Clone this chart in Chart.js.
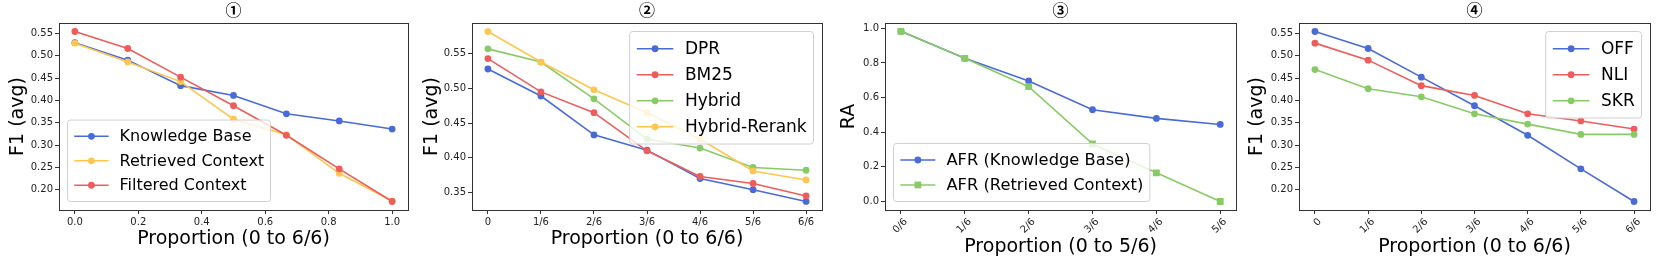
<!DOCTYPE html>
<html>
<head>
<meta charset="utf-8">
<script src="https://cdn.jsdelivr.net/npm/chart.js@4.4.0/dist/chart.umd.min.js"></script>
<style>
  body { margin: 0; background: #fff; width: 1661px; height: 262px; overflow: hidden; position: relative; }
  canvas { position: absolute; top: 0; }
</style>
</head>
<body>
<canvas id="c1" width="412" height="262" style="left:0px"></canvas>
<canvas id="c2" width="413" height="262" style="left:413px"></canvas>
<canvas id="c3" width="415" height="262" style="left:826px"></canvas>
<canvas id="c4" width="421" height="262" style="left:1240px"></canvas>
<script>
  // x values / tick labels
  const proportions = [0, 0.1667, 0.3333, 0.5, 0.6667, 0.8333, 1.0];
  const proportionTicks = [0, 0.2, 0.4, 0.6, 0.8, 1.0];
  const sixthLabels = ['0', '1/6', '2/6', '3/6', '4/6', '5/6', '6/6'];
  const fifthLabels = ['0/6', '1/6', '2/6', '3/6', '4/6', '5/6'];
  const f1Ticks = [0.20, 0.25, 0.30, 0.35, 0.40, 0.45, 0.50, 0.55];
  const retrieverTicks = [0.35, 0.40, 0.45, 0.50, 0.55];
  const raTicks = [0.0, 0.2, 0.4, 0.6, 0.8, 1.0];

  // panel 1: source of the passages
  const kbF1 = [0.529, 0.490, 0.433, 0.411, 0.370, 0.354, 0.336];
  const retrievedF1 = [0.528, 0.486, 0.442, 0.358, 0.323, 0.237, 0.175];
  const filteredF1 = [0.554, 0.516, 0.452, 0.388, 0.322, 0.247, 0.174];

  // panel 2: retrievers
  const dprF1 = [0.528, 0.489, 0.433, 0.411, 0.370, 0.354, 0.337];
  const bm25F1 = [0.543, 0.495, 0.465, 0.410, 0.373, 0.363, 0.345];
  const hybridF1 = [0.557, 0.538, 0.485, 0.427, 0.414, 0.386, 0.382];
  const rerankF1 = [0.582, 0.538, 0.498, 0.465, 0.427, 0.381, 0.368];

  // panel 3: AFR
  const afrKbRA = [0.983, 0.827, 0.696, 0.530, 0.480, 0.445];
  const afrRcRA = [0.983, 0.827, 0.663, 0.333, 0.166, 0.0];

  // panel 4: filters
  const offF1 = [0.554, 0.516, 0.452, 0.388, 0.322, 0.247, 0.174];
  const nliF1 = [0.528, 0.490, 0.433, 0.411, 0.370, 0.354, 0.336];
  const skrF1 = [0.469, 0.426, 0.408, 0.370, 0.347, 0.324, 0.324];

  const BLUE = '#4A6BD6', YELLOW = '#FDC64F', RED = '#EE5C5C', GREEN = '#88CB66';

  Chart.defaults.font.family = "'DejaVu Sans', sans-serif";

  function series(label, color, values, xs, style) {
    return {
      label: label,
      data: values.map((v, i) => ({ x: xs ? xs[i] : i, y: v })),
      borderColor: color,
      backgroundColor: color,
      borderWidth: 1.6,
      pointStyle: style || 'circle',
      pointRadius: style === 'rect' ? 4.8 : 3.4,
      pointBorderWidth: 0,
      tension: 0
    };
  }

  // frame, legend inside the axes and the panel title
  const framePlugin = {
    id: 'frame',
    afterDatasetsDraw(chart, args, opts) {
      const ctx = chart.ctx, a = chart.chartArea;
      ctx.save();
      ctx.strokeStyle = '#333';
      ctx.lineWidth = 1;
      ctx.strokeRect(Math.round(a.left) + 0.5, Math.round(a.top) + 0.5,
        Math.round(a.right - a.left), Math.round(a.bottom - a.top));

      const lg = opts.legend, fs = lg.size;
      const items = chart.data.datasets;
      ctx.font = fs + "px 'DejaVu Sans'";
      const tw = Math.max(...items.map(d => ctx.measureText(d.label).width));
      const w = fs * 3.25 + tw + fs * 0.4;
      const rowH = fs * 1.53;
      const h = items.length * rowH + fs * 0.5;
      const x = lg.corner === 'lowerleft' ? a.left + 8.5 : a.right - 8.5 - w;
      const y = lg.corner === 'lowerleft' ? a.bottom - 8.5 - h : a.top + 8.5;
      ctx.beginPath();
      ctx.roundRect(x, y, w, h, 3);
      ctx.fillStyle = 'rgba(255,255,255,0.8)';
      ctx.fill();
      ctx.strokeStyle = '#d0d0d0';
      ctx.stroke();
      items.forEach((d, i) => {
        const cy = y + fs * 0.25 + rowH * (i + 0.5);
        const x0 = x + fs * 0.42, x1 = x + fs * 2.57, mx = (x0 + x1) / 2;
        ctx.strokeStyle = d.borderColor;
        ctx.lineWidth = d.borderWidth;
        ctx.beginPath(); ctx.moveTo(x0, cy); ctx.lineTo(x1, cy); ctx.stroke();
        ctx.fillStyle = d.borderColor;
        ctx.beginPath();
        if (d.pointStyle === 'rect') {
          const s = d.pointRadius * Math.SQRT1_2;
          ctx.rect(mx - s, cy - s, 2 * s, 2 * s);
        } else {
          ctx.arc(mx, cy, d.pointRadius, 0, Math.PI * 2);
        }
        ctx.fill();
        ctx.fillStyle = '#000';
        ctx.textAlign = 'left';
        ctx.textBaseline = 'middle';
        ctx.fillText(d.label, x + fs * 3.25, cy + 1);
      });

      ctx.font = "bold 16px 'Noto Sans CJK SC'";
      ctx.fillStyle = '#000';
      ctx.textAlign = 'center';
      ctx.textBaseline = 'middle';
      ctx.fillText(opts.title, (a.left + a.right) / 2, 10);
      ctx.restore();
    }
  };

  function buildChart(id, p) {
    const n = p.datasets.length;
    p.datasets.forEach((d, i) => { d.order = n - i; }); // later series on top
    return new Chart(document.getElementById(id), {
      type: 'line',
      data: { datasets: p.datasets },
      options: {
        responsive: false,
        animation: false,
        layout: { padding: { top: 23, right: p.padRight, left: 0, bottom: 0 } },
        plugins: {
          legend: { display: false },
          tooltip: { enabled: false },
          frame: { title: p.title, legend: p.legend }
        },
        scales: {
          x: {
            type: 'linear', min: p.xMin, max: p.xMax,
            afterBuildTicks: s => { s.ticks = p.xTicks.map(v => ({ value: v })); },
            afterFit: s => { s.height = 52; },
            ticks: {
              callback: p.xFormat, font: { size: 10 }, color: '#222', padding: 2,
              autoSkip: false, minRotation: p.xRot, maxRotation: p.xRot, labelOffset: p.xRot ? 5 : 0
            },
            grid: { drawOnChartArea: false, drawTicks: true, tickLength: 4, tickColor: '#333' },
            border: { display: false },
            title: { display: true, text: p.xTitle, font: { size: 19 }, color: '#000', padding: { top: 0, bottom: p.xTitlePad } }
          },
          y: {
            type: 'linear', min: p.yMin, max: p.yMax,
            afterBuildTicks: s => { s.ticks = p.yTicks.map(v => ({ value: v })); },
            afterFit: s => { s.width = 59; },
            ticks: { callback: p.yFormat, font: { size: 10 }, color: '#222', padding: 2 },
            grid: { drawOnChartArea: false, drawTicks: true, tickLength: 4, tickColor: '#333' },
            border: { display: false },
            title: { display: true, text: p.yTitle, font: { size: 19 }, color: '#000', padding: { top: p.yTitlePad, bottom: 0 } }
          }
        }
      },
      plugins: [framePlugin]
    });
  }

  buildChart('c1', {
    title: '①', padRight: 3,
    datasets: [
      series('Knowledge Base', BLUE, kbF1, proportions),
      series('Retrieved Context', YELLOW, retrievedF1, proportions),
      series('Filtered Context', RED, filteredF1, proportions)
    ],
    legend: { corner: 'lowerleft', size: 16 },
    xMin: -0.05, xMax: 1.05, xTicks: proportionTicks, xFormat: v => v.toFixed(1), xRot: 0,
    xTitle: 'Proportion (0 to 6/6)', xTitlePad: 11.6,
    yMin: 0.155, yMax: 0.573, yTicks: f1Ticks, yFormat: v => v.toFixed(2),
    yTitle: 'F1 (avg)', yTitlePad: 6.6
  });

  buildChart('c2', {
    title: '②', padRight: 3,
    datasets: [
      series('DPR', BLUE, dprF1),
      series('BM25', RED, bm25F1),
      series('Hybrid', GREEN, hybridF1),
      series('Hybrid-Rerank', YELLOW, rerankF1)
    ],
    legend: { corner: 'upperright', size: 17 },
    xMin: -0.3, xMax: 6.3, xTicks: [0, 1, 2, 3, 4, 5, 6], xFormat: v => sixthLabels[Math.round(v)], xRot: 0,
    xTitle: 'Proportion (0 to 6/6)', xTitlePad: 11.6,
    yMin: 0.3247, yMax: 0.5943, yTicks: retrieverTicks, yFormat: v => v.toFixed(2),
    yTitle: 'F1 (avg)', yTitlePad: 7.6
  });

  buildChart('c3', {
    title: '③', padRight: 4,
    datasets: [
      series('AFR (Knowledge Base)', BLUE, afrKbRA),
      series('AFR (Retrieved Context)', GREEN, afrRcRA, null, 'rect')
    ],
    legend: { corner: 'lowerleft', size: 16.3 },
    xMin: -0.25, xMax: 5.25, xTicks: [0, 1, 2, 3, 4, 5], xFormat: v => fifthLabels[Math.round(v)], xRot: 45,
    xTitle: 'Proportion (0 to 5/6)', xTitlePad: 3.1,
    yMin: -0.049, yMax: 1.031, yTicks: raTicks, yFormat: v => v.toFixed(1),
    yTitle: 'RA', yTitlePad: 12
  });

  buildChart('c4', {
    title: '④', padRight: 11,
    datasets: [
      series('OFF', BLUE, offF1),
      series('NLI', RED, nliF1),
      series('SKR', GREEN, skrF1)
    ],
    legend: { corner: 'upperright', size: 17 },
    xMin: -0.3, xMax: 6.3, xTicks: [0, 1, 2, 3, 4, 5, 6], xFormat: v => sixthLabels[Math.round(v)], xRot: 45,
    xTitle: 'Proportion (0 to 6/6)', xTitlePad: 3.1,
    yMin: 0.155, yMax: 0.573, yTicks: f1Ticks, yFormat: v => v.toFixed(2),
    yTitle: 'F1 (avg)', yTitlePad: 6
  });
</script>
</body>
</html>
